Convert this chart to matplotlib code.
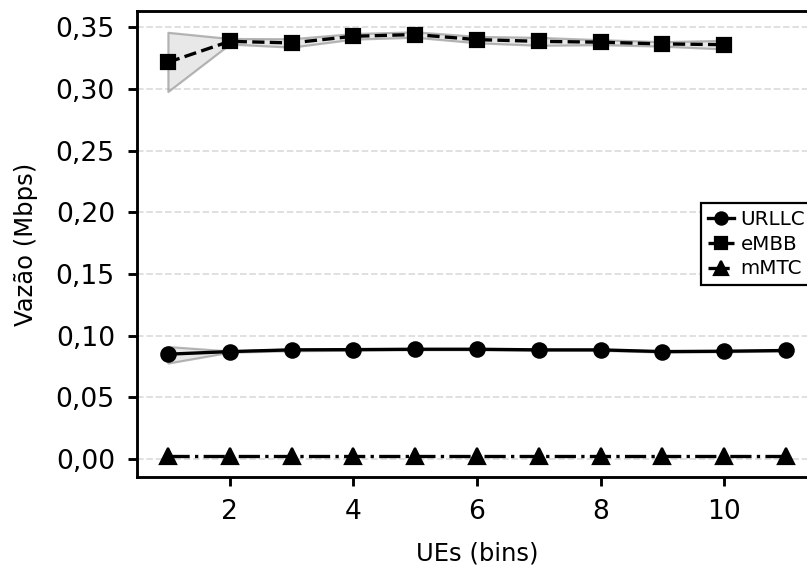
import matplotlib
matplotlib.use("Agg")
import matplotlib.pyplot as plt
import matplotlib.ticker as mticker
import numpy as np

# Data
x_urllc = [1, 2, 3, 4, 5, 6, 7, 8, 9, 10, 11]
urllc = [0.0850, 0.0871, 0.0885, 0.0887, 0.0890, 0.0890, 0.0885, 0.0885, 0.0871, 0.0874, 0.0880]
urllc_lo = [0.0778, 0.0866, 0.0878, 0.0882, 0.0886, 0.0886, 0.0881, 0.0881, 0.0867, 0.0870, 0.0876]
urllc_hi = [0.0912, 0.0876, 0.0892, 0.0892, 0.0894, 0.0894, 0.0889, 0.0889, 0.0875, 0.0878, 0.0884]

x_embb = [1, 2, 3, 4, 5, 6, 7, 8, 9, 10]
embb = [0.3217, 0.3387, 0.3374, 0.3428, 0.3442, 0.3401, 0.3387, 0.3380, 0.3366, 0.3360]
embb_lo = [0.2980, 0.3365, 0.3340, 0.3405, 0.3420, 0.3375, 0.3355, 0.3360, 0.3348, 0.3325]
embb_hi = [0.3460, 0.3410, 0.3408, 0.3450, 0.3464, 0.3427, 0.3419, 0.3400, 0.3384, 0.3395]

x_mmtc = [1, 2, 3, 4, 5, 6, 7, 8, 9, 10, 11]
mmtc = [0.0027] * 11

yticks = [0.00, 0.05, 0.10, 0.15, 0.20, 0.25, 0.30, 0.35]
xticks = [2, 4, 6, 8, 10]

DPI = 159
fig = plt.figure(figsize=(807 / DPI, 567 / DPI), dpi=DPI)
ax = fig.add_axes([137 / 807, 90 / 567, (817 - 137) / 807, (477 - 11) / 567])

band_kw = dict(facecolor="#d9d9d9", alpha=0.6, edgecolor="#888888", linewidth=1.0)
ax.fill_between(x_urllc, urllc_lo, urllc_hi, **band_kw)
ax.fill_between(x_embb, embb_lo, embb_hi, **band_kw)

ax.plot(x_urllc, urllc, color="black", linestyle="-", marker="o", markersize=6.5, linewidth=1.5, label="URLLC")
ax.plot(x_embb, embb, color="black", linestyle="--", marker="s", markersize=6.5, linewidth=1.5, label="eMBB")
ax.plot(x_mmtc, mmtc, color="black", linestyle="-.", marker="^", markersize=7, linewidth=1.5, label="mMTC")

ax.set_xlim(0.5, 11.5)
ax.set_ylim(-0.0146, 0.3633)
ax.set_xticks(xticks)
ax.set_yticks(yticks)
ax.yaxis.set_major_formatter(mticker.FuncFormatter(lambda v, p: f"{v:.2f}".replace(".", ",")))
ax.tick_params(labelsize=12, width=1.3, length=4, pad=6)
for s in ax.spines.values():
    s.set_linewidth(1.3)

ax.grid(axis="y", linestyle="--", color="#dddddd", linewidth=0.8)
ax.set_axisbelow(True)

ax.set_xlabel("UEs (bins)", fontsize=11, labelpad=7.5)
ax.set_ylabel("Vazão (Mbps)", fontsize=11, labelpad=8)

leg = ax.legend(loc="center right", bbox_to_anchor=(1.0, 0.5), fontsize=9, frameon=True, fancybox=False,
                edgecolor="black", framealpha=1, handlelength=1.35, handletextpad=0.3,
                borderpad=0.35, labelspacing=0.3, borderaxespad=0.25, markerscale=0.85)
leg.get_frame().set_linewidth(1.0)

fig.savefig("out.png", dpi=DPI)
